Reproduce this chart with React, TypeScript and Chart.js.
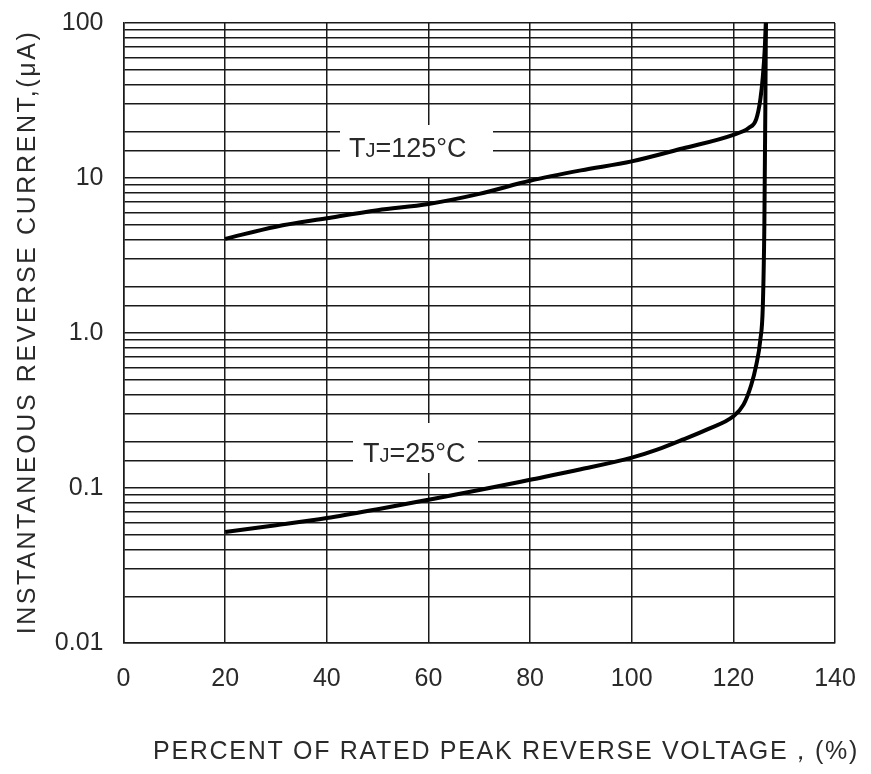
import React, { useEffect, useRef } from "react";
import { Chart, registerables } from "chart.js";

Chart.register(...registerables);

// ---- data ----
const X_TICKS = [0, 20, 40, 60, 80, 100, 120, 140];
const Y_TICK_VALUES = [0.01, 0.1, 1, 10, 100];
const Y_TICK_LABELS = ["0.01", "0.1", "1.0", "10", "100"];

const T125_X = [20, 30, 40, 50, 60, 70, 80, 90, 100, 110, 120, 123, 124.5, 125.3, 125.8, 126.2, 126.4];
const T125_Y = [4.05, 4.85, 5.5, 6.2, 6.8, 7.9, 9.6, 11.2, 12.8, 15.5, 19, 21, 24, 32, 45, 70, 100];

const T25_X = [20, 30, 40, 50, 60, 70, 80, 90, 100, 105, 110, 115, 120, 122, 123.5, 124.5, 125.3, 125.8, 126.1, 126.3, 126.4];
const T25_Y = [0.052, 0.0575, 0.064, 0.073, 0.084, 0.097, 0.113, 0.132, 0.157, 0.177, 0.205, 0.24, 0.29, 0.345, 0.46, 0.62, 0.9, 1.5, 5, 30, 100];

const SERIES_LABELS = ["125", "25"];
const X_TITLE = "PERCENT OF RATED PEAK REVERSE VOLTAGE\uFF0C(%)";
const Y_TITLE = "INSTANTANEOUS REVERSE CURRENT,(\u03BCA)";

const FONT = '"Liberation Sans", Arial, sans-serif';
const TEXT_COLOR = "#2a2a2a";

const toPoints = (xs: number[], ys: number[]) => xs.map((x, i) => ({ x, y: ys[i] }));

const decorPlugin = {
  id: "decor",
  afterDraw(chart: any) {
    const ctx = chart.ctx as CanvasRenderingContext2D;
    ctx.save();
    const boxes = [
      { x0: 340, x1: 493, y0: 125, y1: 177, tx: 349, ty: 147, label: SERIES_LABELS[0] },
      { x0: 353, x1: 478, y0: 423, y1: 473, tx: 363, ty: 452, label: SERIES_LABELS[1] },
    ];
    for (const b of boxes) {
      ctx.fillStyle = "#ffffff";
      ctx.fillRect(b.x0, b.y0, b.x1 - b.x0, b.y1 - b.y0);
      ctx.fillStyle = TEXT_COLOR;
      ctx.textBaseline = "alphabetic";
      ctx.textAlign = "left";
      const base = b.ty + 10;
      let x = b.tx;
      ctx.font = `27px ${FONT}`;
      ctx.fillText("T", x, base);
      x += ctx.measureText("T").width;
      ctx.font = `20px ${FONT}`;
      ctx.fillText("J", x, base);
      x += ctx.measureText("J").width;
      ctx.font = `27px ${FONT}`;
      ctx.fillText(`=${b.label}\u00B0C`, x, base);
    }
    ctx.fillStyle = TEXT_COLOR;
    ctx.textAlign = "center";
    ctx.textBaseline = "middle";
    (ctx as any).letterSpacing = "1.7px";
    ctx.font = `25px ${FONT}`;
    ctx.fillText(X_TITLE, 506, 752);
    ctx.translate(28, 332);
    ctx.rotate(-Math.PI / 2);
    (ctx as any).letterSpacing = "2.6px";
    ctx.font = `25px ${FONT}`;
    ctx.fillText(Y_TITLE, 0, 0);
    ctx.restore();
  },
};

export default function App() {
  const ref = useRef<HTMLCanvasElement | null>(null);
  useEffect(() => {
    if (!ref.current) return;
    const chart = new Chart(ref.current, {
      type: "line",
      data: {
        datasets: [
          {
            label: "TJ=125°C",
            data: toPoints(T125_X, T125_Y),
            borderColor: "#000",
            borderWidth: 4,
            pointRadius: 0,
            cubicInterpolationMode: "monotone",
          },
          {
            label: "TJ=25°C",
            data: toPoints(T25_X, T25_Y),
            borderColor: "#000",
            borderWidth: 4,
            pointRadius: 0,
            cubicInterpolationMode: "monotone",
          },
        ],
      },
      options: {
        animation: false,
        responsive: false,
        devicePixelRatio: 1,
        layout: { padding: { top: 23, right: 36, left: 0, bottom: 0 } },
        plugins: { legend: { display: false }, tooltip: { enabled: false } },
        scales: {
          x: {
            type: "linear",
            min: 0,
            max: 140,
            afterBuildTicks: (axis: any) => {
              axis.ticks = X_TICKS.map((v) => ({ value: v }));
            },
            ticks: {
              autoSkip: false,
              padding: 21,
              color: TEXT_COLOR,
              font: { family: FONT, size: 25 },
              maxRotation: 0,
            },
            grid: { color: "#1a1a1a", lineWidth: 1.5, drawTicks: false },
            border: { color: "#1a1a1a", width: 1.5 },
            afterFit: (axis: any) => {
              axis.height = 774 - 643;
              axis.paddingLeft = 0;
              axis.paddingRight = 0;
            },
          },
          y: {
            type: "logarithmic",
            min: 0.01,
            max: 100,
            ticks: {
              autoSkip: false,
              padding: 20,
              color: TEXT_COLOR,
              font: { family: FONT, size: 25 },
              callback: (value: any) => {
                const v = Number(value);
                const idx = Y_TICK_VALUES.findIndex((t) => Math.abs(Math.log10(t) - Math.log10(v)) < 1e-6);
                return idx >= 0 ? Y_TICK_LABELS[idx] : "";
              },
            },
            grid: { color: "#1a1a1a", lineWidth: 1.5, drawTicks: false },
            border: { color: "#1a1a1a", width: 1.5 },
            afterFit: (axis: any) => {
              axis.width = 123.5;
              axis.paddingTop = 0;
              axis.paddingBottom = 0;
            },
          },
        },
      },
      plugins: [decorPlugin],
    } as any);
    return () => chart.destroy();
  }, []);
  return (
    <div style={{ position: "absolute", left: 0, top: 0, width: 871, height: 774, background: "#fff" }}>
      <canvas ref={ref} width={871} height={774} style={{ display: "block" }} />
    </div>
  );
}
